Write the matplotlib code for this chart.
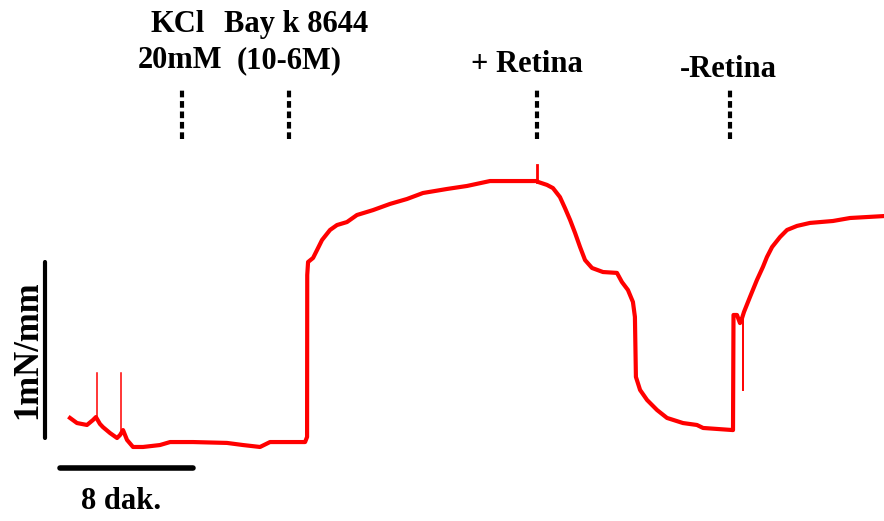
import matplotlib
matplotlib.use("Agg")
import matplotlib.pyplot as plt

# tension trace: time (min) and force (mN/mm, relative to baseline)
time_min = [0.0, 0.42, 1.02, 1.38, 1.56, 1.80, 1.98, 2.41, 2.83, 3.01, 3.19, 3.43,
            3.79, 4.39, 5.41, 6.02, 7.40, 9.44, 10.41, 11.43, 12.03, 14.14, 14.26,
            14.27, 14.32, 14.62, 14.86, 15.16, 15.64, 16.06, 16.66, 17.26, 18.23,
            19.25, 20.27, 21.23, 22.68, 23.88, 25.26, 28.09, 28.15, 28.69, 29.05,
            29.47, 29.77, 30.08, 30.38, 30.68, 30.98, 31.40, 32.06, 32.90, 33.20,
            33.56, 33.86, 33.98, 34.04, 34.29, 34.71, 35.31, 35.91, 36.87, 37.71,
            38.08, 39.88, 39.91, 40.12, 40.30, 40.42, 40.54, 40.90, 41.32, 41.68,
            41.92, 42.23, 42.71, 43.13, 43.73, 44.51, 45.89, 46.92, 48.96]
force = [0.114, 0.085, 0.074, 0.102, 0.119, 0.080, 0.062, 0.028, 0.000, 0.017, 0.045,
         -0.011, -0.051, -0.051, -0.040, -0.023, -0.023, -0.028, -0.040, -0.051,
         -0.023, -0.023, 0.006, 0.926, 1.000, 1.023, 1.068, 1.125, 1.182, 1.210,
         1.227, 1.267, 1.295, 1.330, 1.358, 1.392, 1.415, 1.432, 1.460, 1.460,
         1.455, 1.438, 1.420, 1.369, 1.307, 1.239, 1.165, 1.085, 1.011, 0.966,
         0.943, 0.938, 0.886, 0.841, 0.773, 0.688, 0.347, 0.273, 0.216, 0.159,
         0.114, 0.085, 0.074, 0.057, 0.045, 0.699, 0.699, 0.653, 0.680, 0.716,
         0.801, 0.898, 0.972, 1.028, 1.085, 1.142, 1.182, 1.205, 1.222, 1.233,
         1.250, 1.261]

# fast transients: (time, start force, end force)
spikes = [(1.62, 0.11, 0.369), (3.07, 0.03, 0.369), (28.09, 1.455, 1.551), (40.48, 0.68, 0.273)]
spike_widths = [1.1, 1.1, 2.0, 1.4]

# drug additions
event_times = [6.74, 13.2, 28.1, 39.7]
labels_top = ["KCl", "Bay k 8644", "+ Retina", ""]
labels_bottom = ["20mM", "(10-6M)", "", "-Retina"]
label_x_top = [6.5, 13.6, 27.5, 0]
label_x_bottom = [6.6, 13.2, 0, 39.6]

fig = plt.figure(figsize=(8.84, 5.21), dpi=100)
ax = fig.add_axes([0, 0, 1, 1])
ax.set_xlim(-70 / 16.625, 814 / 16.625)
ax.set_ylim(-83 / 176, 438 / 176)
ax.axis("off")

ax.plot(time_min, force, color="#ff0000", lw=3, solid_joinstyle="round")
for (t, f0, f1), w in zip(spikes, spike_widths):
    ax.plot([t, t], [f0, f1], color="#ff0000", lw=w)

font = dict(family="Liberation Serif", weight="bold", fontsize=22, color="black")
for t in event_times:
    ax.plot([t, t], [1.70, 1.99], color="black", lw=3, linestyle=(0, (1.6, 0.9)),
            dash_capstyle="butt")
for x, s in zip(label_x_top, labels_top):
    if s:
        ax.text(x, 2.307 if s != "+ Retina" else 2.08, s, ha="center", va="baseline", **font)
for x, s in zip(label_x_bottom, labels_bottom):
    if s:
        ax.text(x, 2.102 if s != "-Retina" else 2.05, s, ha="center", va="baseline", **font)

# scale bars: 8 min and 1 mN/mm
ax.plot([-0.6, 7.4], [-0.17, -0.17], color="black", lw=4, solid_capstyle="round")
ax.text(3.05, -0.405, "8 dak.", ha="center", va="baseline", **font)
ax.plot([-1.5, -1.5], [0.0, 1.0], color="black", lw=3, solid_capstyle="round")
ax.text(-2.55, 0.5, "1mN/mm", rotation=90, ha="center", va="center",
        family="Liberation Serif", weight="bold", fontsize=25)

fig.savefig("out.png", dpi=100)
